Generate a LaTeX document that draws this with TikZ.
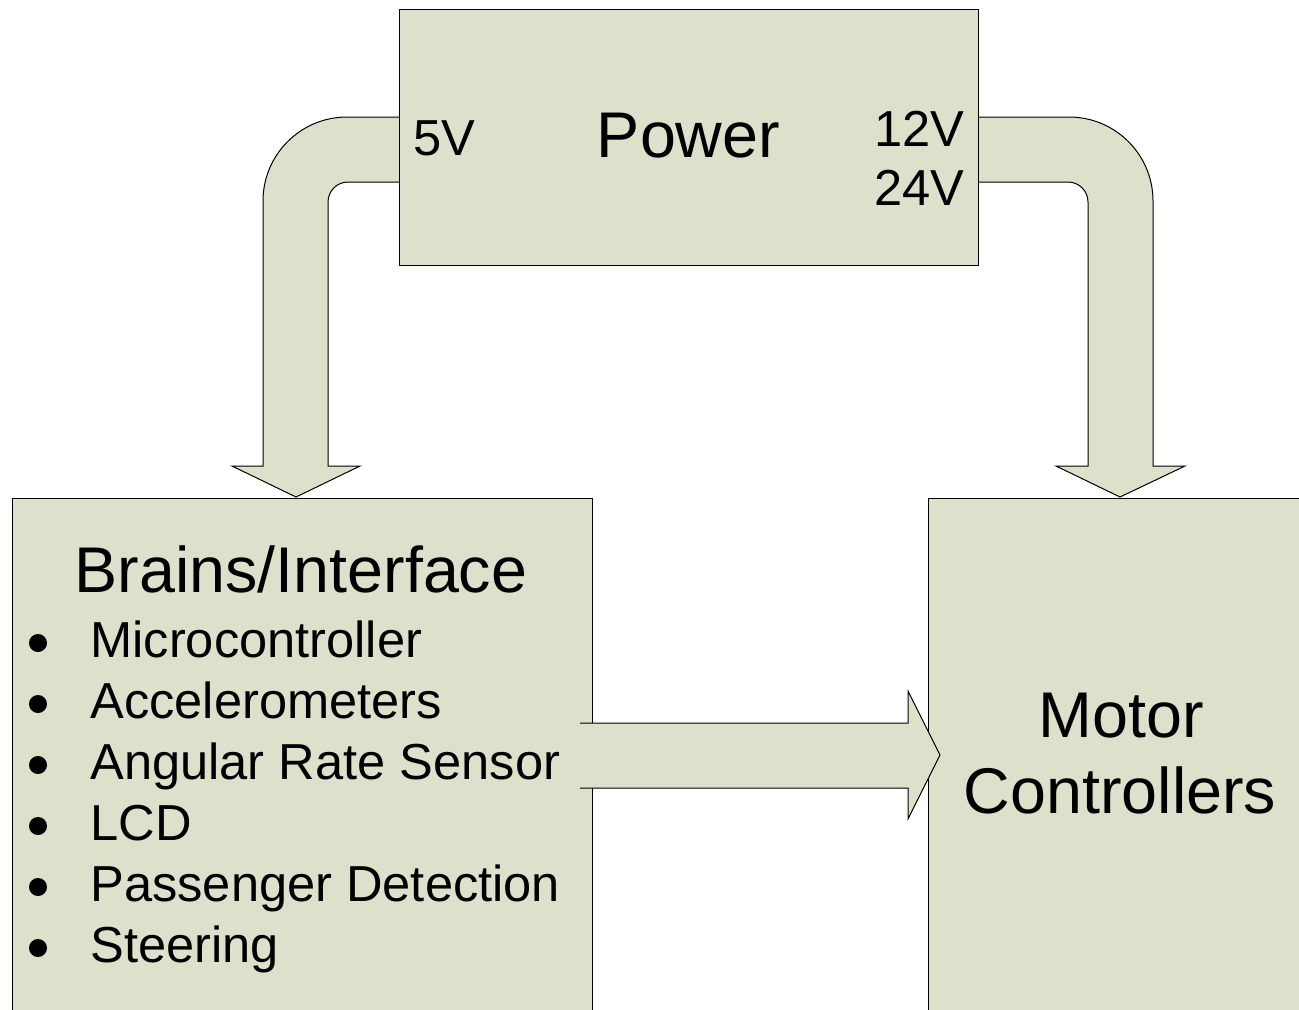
\documentclass[tikz,border=0pt]{standalone}
\usepackage{fontspec}
\setmainfont{Liberation Sans}
\definecolor{boxfill}{RGB}{221,224,203}

\begin{document}
\begin{tikzpicture}[
        x=0.5pt, y=-0.5pt,
        block/.style={draw=black, fill=boxfill, line width=0.5pt},
        big/.style={inner sep=0pt, anchor=base, font=\fontsize{32.3}{38}\selectfont},
        small/.style={inner sep=0pt, anchor=base west, font=\fontsize{25.3}{30}\selectfont},
        dot/.style={circle, fill=black, inner sep=0pt, minimum size=9pt}
    ]
    \useasboundingbox (0,0) rectangle (1299,1009);

    % bent arrows out of the power box
    \draw[block] (399,117) [rounded corners=42pt] -- (263,117) -- (263,300)
        [sharp corners] -- (263,466) -- (232,466) -- (296,497) -- (360,466)
        -- (328,466) -- (328,300) [rounded corners=10pt] -- (328,182) -- (399,182);
    \draw[block] (978,117) [rounded corners=42pt] -- (1153,117) -- (1153,300)
        [sharp corners] -- (1153,466) -- (1185,466) -- (1120,497) -- (1056,466)
        -- (1088,466) -- (1088,300) [rounded corners=10pt] -- (1088,182) -- (978,182);

    \node[block, inner sep=0pt, minimum width=289.5pt, minimum height=128pt] (power) at (688.5,137) {};
    \node[block, inner sep=0pt, minimum width=290pt, minimum height=261pt] (brains) at (302,759) {};
    \node[block, inner sep=0pt, minimum width=196pt, minimum height=261pt] (motor) at (1124,759) {};

    % brains -> motor controllers
    \draw[block] (580,723) -- (908,723) -- (908,691) -- (940,755) -- (908,819)
        -- (908,788) -- (580,788);

    \node[big] (powertext) at (688.5,157) {Power};
    \node[small] (fivev) at (413,155) {5V};
    \node[small, anchor=base east] (twelvev) at (965,146) {12V};
    \node[small, anchor=base east] (twentyfourv) at (965,205) {24V};

    \node[big] (brainstext) at (301,592) {Brains/Interface};
    \foreach \entry [count=\i] in {Microcontroller, Accelerometers, Angular Rate Sensor,
            LCD, Passenger Detection, Steering} {
        \node[dot] (dot\i) at (38,{643+61*(\i-1)}) {};
        \node[small] (entry\i) at (90,{657+61*(\i-1)}) {\entry};
    }

    \node[big] (motortext) at (1121,737) {Motor};
    \node[big] (controllerstext) at (1120,813) {Controllers};
\end{tikzpicture}
\end{document}
